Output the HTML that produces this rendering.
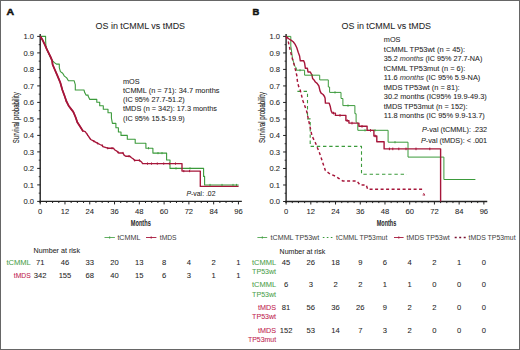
<!DOCTYPE html>
<html><head><meta charset="utf-8"><style>
html,body{margin:0;padding:0;background:#fff;}
#f{position:relative;width:520px;height:350px;overflow:hidden;box-sizing:border-box;border:1px solid #666;background:#fff;}
svg{position:absolute;left:-1px;top:-1px;}
text{font-family:"Liberation Sans",sans-serif;}
</style></head><body><div id="f">
<svg width="520" height="350" viewBox="0 0 520 350">
<text x="6.60" y="15.30" font-size="9.8" fill="#111" textLength="7.6" lengthAdjust="spacingAndGlyphs" font-weight="bold" stroke="#111" stroke-width="0.5">A</text>
<text x="140.30" y="28.90" font-size="9.6" fill="#262626" stroke="#262626" stroke-width="0.06" text-anchor="middle" textLength="89.5" lengthAdjust="spacingAndGlyphs" >OS in tCMML vs tMDS</text>
<text x="18.90" y="117.80" font-size="8.6" fill="#2a2a2a" text-anchor="middle" textLength="51" lengthAdjust="spacingAndGlyphs" transform="rotate(-90 18.9 117.8)" stroke="#2a2a2a" stroke-width="0.12">Survival probability</text>
<line x1="40.20" y1="34.00" x2="40.20" y2="202.90" stroke="#222" stroke-width="1.4"/>
<line x1="39.50" y1="201.40" x2="241.84" y2="201.40" stroke="#222" stroke-width="1.4"/>
<line x1="37.20" y1="201.40" x2="40.20" y2="201.40" stroke="#222" stroke-width="1"/>
<text x="34.10" y="204.10" font-size="7.6" fill="#262626" stroke="#262626" stroke-width="0.06" text-anchor="end" >0.0</text>
<line x1="38.70" y1="193.15" x2="40.20" y2="193.15" stroke="#222" stroke-width="0.9"/>
<line x1="37.20" y1="184.90" x2="40.20" y2="184.90" stroke="#222" stroke-width="1"/>
<text x="34.10" y="187.60" font-size="7.6" fill="#262626" stroke="#262626" stroke-width="0.06" text-anchor="end" >0.1</text>
<line x1="38.70" y1="176.65" x2="40.20" y2="176.65" stroke="#222" stroke-width="0.9"/>
<line x1="37.20" y1="168.40" x2="40.20" y2="168.40" stroke="#222" stroke-width="1"/>
<text x="34.10" y="171.10" font-size="7.6" fill="#262626" stroke="#262626" stroke-width="0.06" text-anchor="end" >0.2</text>
<line x1="38.70" y1="160.15" x2="40.20" y2="160.15" stroke="#222" stroke-width="0.9"/>
<line x1="37.20" y1="151.90" x2="40.20" y2="151.90" stroke="#222" stroke-width="1"/>
<text x="34.10" y="154.60" font-size="7.6" fill="#262626" stroke="#262626" stroke-width="0.06" text-anchor="end" >0.3</text>
<line x1="38.70" y1="143.65" x2="40.20" y2="143.65" stroke="#222" stroke-width="0.9"/>
<line x1="37.20" y1="135.40" x2="40.20" y2="135.40" stroke="#222" stroke-width="1"/>
<text x="34.10" y="138.10" font-size="7.6" fill="#262626" stroke="#262626" stroke-width="0.06" text-anchor="end" >0.4</text>
<line x1="38.70" y1="127.15" x2="40.20" y2="127.15" stroke="#222" stroke-width="0.9"/>
<line x1="37.20" y1="118.90" x2="40.20" y2="118.90" stroke="#222" stroke-width="1"/>
<text x="34.10" y="121.60" font-size="7.6" fill="#262626" stroke="#262626" stroke-width="0.06" text-anchor="end" >0.5</text>
<line x1="38.70" y1="110.65" x2="40.20" y2="110.65" stroke="#222" stroke-width="0.9"/>
<line x1="37.20" y1="102.40" x2="40.20" y2="102.40" stroke="#222" stroke-width="1"/>
<text x="34.10" y="105.10" font-size="7.6" fill="#262626" stroke="#262626" stroke-width="0.06" text-anchor="end" >0.6</text>
<line x1="38.70" y1="94.15" x2="40.20" y2="94.15" stroke="#222" stroke-width="0.9"/>
<line x1="37.20" y1="85.90" x2="40.20" y2="85.90" stroke="#222" stroke-width="1"/>
<text x="34.10" y="88.60" font-size="7.6" fill="#262626" stroke="#262626" stroke-width="0.06" text-anchor="end" >0.7</text>
<line x1="38.70" y1="77.65" x2="40.20" y2="77.65" stroke="#222" stroke-width="0.9"/>
<line x1="37.20" y1="69.40" x2="40.20" y2="69.40" stroke="#222" stroke-width="1"/>
<text x="34.10" y="72.10" font-size="7.6" fill="#262626" stroke="#262626" stroke-width="0.06" text-anchor="end" >0.8</text>
<line x1="38.70" y1="61.15" x2="40.20" y2="61.15" stroke="#222" stroke-width="0.9"/>
<line x1="37.20" y1="52.90" x2="40.20" y2="52.90" stroke="#222" stroke-width="1"/>
<text x="34.10" y="55.60" font-size="7.6" fill="#262626" stroke="#262626" stroke-width="0.06" text-anchor="end" >0.9</text>
<line x1="38.70" y1="44.65" x2="40.20" y2="44.65" stroke="#222" stroke-width="0.9"/>
<line x1="37.20" y1="36.40" x2="40.20" y2="36.40" stroke="#222" stroke-width="1"/>
<text x="34.10" y="39.10" font-size="7.6" fill="#262626" stroke="#262626" stroke-width="0.06" text-anchor="end" >1.0</text>
<line x1="40.20" y1="201.40" x2="40.20" y2="204.40" stroke="#222" stroke-width="1"/>
<text x="40.20" y="213.80" font-size="7.6" fill="#262626" stroke="#262626" stroke-width="0.06" text-anchor="middle" >0</text>
<line x1="46.40" y1="201.40" x2="46.40" y2="203.00" stroke="#222" stroke-width="1"/>
<line x1="52.59" y1="201.40" x2="52.59" y2="203.00" stroke="#222" stroke-width="1"/>
<line x1="58.79" y1="201.40" x2="58.79" y2="203.00" stroke="#222" stroke-width="1"/>
<line x1="64.98" y1="201.40" x2="64.98" y2="204.40" stroke="#222" stroke-width="1"/>
<text x="64.98" y="213.80" font-size="7.6" fill="#262626" stroke="#262626" stroke-width="0.06" text-anchor="middle" >12</text>
<line x1="71.17" y1="201.40" x2="71.17" y2="203.00" stroke="#222" stroke-width="1"/>
<line x1="77.37" y1="201.40" x2="77.37" y2="203.00" stroke="#222" stroke-width="1"/>
<line x1="83.56" y1="201.40" x2="83.56" y2="203.00" stroke="#222" stroke-width="1"/>
<line x1="89.76" y1="201.40" x2="89.76" y2="204.40" stroke="#222" stroke-width="1"/>
<text x="89.76" y="213.80" font-size="7.6" fill="#262626" stroke="#262626" stroke-width="0.06" text-anchor="middle" >24</text>
<line x1="95.95" y1="201.40" x2="95.95" y2="203.00" stroke="#222" stroke-width="1"/>
<line x1="102.15" y1="201.40" x2="102.15" y2="203.00" stroke="#222" stroke-width="1"/>
<line x1="108.34" y1="201.40" x2="108.34" y2="203.00" stroke="#222" stroke-width="1"/>
<line x1="114.54" y1="201.40" x2="114.54" y2="204.40" stroke="#222" stroke-width="1"/>
<text x="114.54" y="213.80" font-size="7.6" fill="#262626" stroke="#262626" stroke-width="0.06" text-anchor="middle" >36</text>
<line x1="120.73" y1="201.40" x2="120.73" y2="203.00" stroke="#222" stroke-width="1"/>
<line x1="126.93" y1="201.40" x2="126.93" y2="203.00" stroke="#222" stroke-width="1"/>
<line x1="133.12" y1="201.40" x2="133.12" y2="203.00" stroke="#222" stroke-width="1"/>
<line x1="139.32" y1="201.40" x2="139.32" y2="204.40" stroke="#222" stroke-width="1"/>
<text x="139.32" y="213.80" font-size="7.6" fill="#262626" stroke="#262626" stroke-width="0.06" text-anchor="middle" >48</text>
<line x1="145.51" y1="201.40" x2="145.51" y2="203.00" stroke="#222" stroke-width="1"/>
<line x1="151.71" y1="201.40" x2="151.71" y2="203.00" stroke="#222" stroke-width="1"/>
<line x1="157.91" y1="201.40" x2="157.91" y2="203.00" stroke="#222" stroke-width="1"/>
<line x1="164.10" y1="201.40" x2="164.10" y2="204.40" stroke="#222" stroke-width="1"/>
<text x="164.10" y="213.80" font-size="7.6" fill="#262626" stroke="#262626" stroke-width="0.06" text-anchor="middle" >60</text>
<line x1="170.30" y1="201.40" x2="170.30" y2="203.00" stroke="#222" stroke-width="1"/>
<line x1="176.49" y1="201.40" x2="176.49" y2="203.00" stroke="#222" stroke-width="1"/>
<line x1="182.69" y1="201.40" x2="182.69" y2="203.00" stroke="#222" stroke-width="1"/>
<line x1="188.88" y1="201.40" x2="188.88" y2="204.40" stroke="#222" stroke-width="1"/>
<text x="188.88" y="213.80" font-size="7.6" fill="#262626" stroke="#262626" stroke-width="0.06" text-anchor="middle" >72</text>
<line x1="195.07" y1="201.40" x2="195.07" y2="203.00" stroke="#222" stroke-width="1"/>
<line x1="201.27" y1="201.40" x2="201.27" y2="203.00" stroke="#222" stroke-width="1"/>
<line x1="207.46" y1="201.40" x2="207.46" y2="203.00" stroke="#222" stroke-width="1"/>
<line x1="213.66" y1="201.40" x2="213.66" y2="204.40" stroke="#222" stroke-width="1"/>
<text x="213.66" y="213.80" font-size="7.6" fill="#262626" stroke="#262626" stroke-width="0.06" text-anchor="middle" >84</text>
<line x1="219.86" y1="201.40" x2="219.86" y2="203.00" stroke="#222" stroke-width="1"/>
<line x1="226.05" y1="201.40" x2="226.05" y2="203.00" stroke="#222" stroke-width="1"/>
<line x1="232.25" y1="201.40" x2="232.25" y2="203.00" stroke="#222" stroke-width="1"/>
<line x1="238.44" y1="201.40" x2="238.44" y2="204.40" stroke="#222" stroke-width="1"/>
<text x="238.44" y="213.80" font-size="7.6" fill="#262626" stroke="#262626" stroke-width="0.06" text-anchor="middle" >96</text>
<path d="M40.2,36.4 H45.6 V40 L45.9,46 L47.4,50.5 L49.4,55 L51.4,59.5 L52.4,60.7 L54.1,62.4 L56.4,64.1 H59.3 V67.6 L60.4,71.6 L62.7,73.3 L64.4,76.1 L66.7,77.9 L68.4,80.7 H74.1 L75.3,84.7 V90 H84 L84.7,92.6 L86,95.1 H88.1 V96 L89.8,99.4 H96.8 V102.3 H99.7 V105.7 H103.3 V109.2 H108 V112.8 H111.4 V118 L112.4,123.4 H115.9 V127.7 H118.4 V132 H121 V135.4 H127.3 V139.2 H135.2 V143.3 H145.9 V148.2 H152.9 V153.1 H166.6 V160 H170 V168.4 H203.6 V176.4 H204.6 V185 H238.6" fill="none" stroke="#3b9a3b" stroke-width="1.1" stroke-linejoin="round"/>
<path d="M40.4,36.4 L42.7,40.3 L44.8,44.6 L46.6,48.8 L48.7,53.1 L50.8,57.4 L52.1,60.5 L52.6,64.5 L54.3,68.5 L57.3,75.4 L60.2,82.3 L62.4,90 L64.7,96.3 L66.3,101 L68.6,105.7 L71,108.9 L73.4,112 L75.7,117.5 L77.3,122.2 L80.4,127 L82.8,130.9 L85.2,131.7 L87.5,134.8 L90.7,139.5 L93.8,141.1 L97.7,143.3 L100,144.5 L102.4,145.6 L102.9,146.6 L107.7,148.2 H113.5 L114.6,149.8 L117.2,151.4 L118.8,153 H123 L124.1,155.1 L125.7,156.2 H129.9 L131.5,157.8 L133.1,158.8 L134.7,160.4 H139.4 L141.6,162 L142.6,163.6 H182 V171.1 H200.3 V186.4 H238.6" fill="none" stroke="#a6163a" stroke-width="1.35" stroke-linejoin="round"/>
<path d="M40.4,36.4 L42.7,40.3 L44.8,44.6 L46.6,48.8 L48.7,53.1 L50.8,57.4 L52.1,60.5 L52.6,64.5 L54.3,68.5 L57.3,75.4 L60.2,82.3 L62.4,90 L64.7,96.3 L66.3,101 L68.6,105.7 L71,108.9 L73.4,112 L75.7,117.5 L77.3,122.2 L80.4,127 L82.8,130.9" fill="none" stroke="#a6163a" stroke-width="1.8" stroke-linejoin="round"/>
<line x1="66.30" y1="99.90" x2="66.30" y2="102.10" stroke="#a6163a" stroke-width="1.0"/>
<line x1="73.40" y1="110.90" x2="73.40" y2="113.10" stroke="#a6163a" stroke-width="1.0"/>
<line x1="82.80" y1="129.80" x2="82.80" y2="132.00" stroke="#a6163a" stroke-width="1.0"/>
<line x1="87.50" y1="133.70" x2="87.50" y2="135.90" stroke="#a6163a" stroke-width="1.0"/>
<line x1="93.80" y1="140.00" x2="93.80" y2="142.20" stroke="#a6163a" stroke-width="1.0"/>
<line x1="97.70" y1="142.20" x2="97.70" y2="144.40" stroke="#a6163a" stroke-width="1.0"/>
<line x1="102.40" y1="144.50" x2="102.40" y2="146.70" stroke="#a6163a" stroke-width="1.0"/>
<line x1="107.70" y1="147.10" x2="107.70" y2="149.30" stroke="#a6163a" stroke-width="1.0"/>
<line x1="112.00" y1="147.10" x2="112.00" y2="149.30" stroke="#a6163a" stroke-width="1.0"/>
<line x1="118.00" y1="151.10" x2="118.00" y2="153.30" stroke="#a6163a" stroke-width="1.0"/>
<line x1="123.00" y1="151.90" x2="123.00" y2="154.10" stroke="#a6163a" stroke-width="1.0"/>
<line x1="129.00" y1="155.10" x2="129.00" y2="157.30" stroke="#a6163a" stroke-width="1.0"/>
<line x1="134.70" y1="159.30" x2="134.70" y2="161.50" stroke="#a6163a" stroke-width="1.0"/>
<line x1="139.40" y1="159.30" x2="139.40" y2="161.50" stroke="#a6163a" stroke-width="1.0"/>
<line x1="147.50" y1="162.50" x2="147.50" y2="164.70" stroke="#a6163a" stroke-width="1.0"/>
<line x1="151.50" y1="162.50" x2="151.50" y2="164.70" stroke="#a6163a" stroke-width="1.0"/>
<line x1="157.30" y1="162.50" x2="157.30" y2="164.70" stroke="#a6163a" stroke-width="1.0"/>
<line x1="163.70" y1="162.50" x2="163.70" y2="164.70" stroke="#a6163a" stroke-width="1.0"/>
<line x1="169.40" y1="162.50" x2="169.40" y2="164.70" stroke="#a6163a" stroke-width="1.0"/>
<line x1="175.50" y1="162.50" x2="175.50" y2="164.70" stroke="#a6163a" stroke-width="1.0"/>
<line x1="183.80" y1="170.00" x2="183.80" y2="172.20" stroke="#a6163a" stroke-width="1.0"/>
<line x1="189.60" y1="170.00" x2="189.60" y2="172.20" stroke="#a6163a" stroke-width="1.0"/>
<line x1="148.50" y1="147.10" x2="148.50" y2="149.30" stroke="#3b9a3b" stroke-width="0.9"/>
<line x1="158.00" y1="152.00" x2="158.00" y2="154.20" stroke="#3b9a3b" stroke-width="0.9"/>
<line x1="162.00" y1="152.00" x2="162.00" y2="154.20" stroke="#3b9a3b" stroke-width="0.9"/>
<line x1="176.00" y1="167.30" x2="176.00" y2="169.50" stroke="#3b9a3b" stroke-width="0.9"/>
<line x1="190.00" y1="167.30" x2="190.00" y2="169.50" stroke="#3b9a3b" stroke-width="0.9"/>
<line x1="210.00" y1="183.90" x2="210.00" y2="186.10" stroke="#3b9a3b" stroke-width="0.9"/>
<line x1="222.00" y1="183.90" x2="222.00" y2="186.10" stroke="#3b9a3b" stroke-width="0.9"/>
<line x1="233.00" y1="183.90" x2="233.00" y2="186.10" stroke="#3b9a3b" stroke-width="0.9"/>
<line x1="236.50" y1="183.90" x2="236.50" y2="186.10" stroke="#3b9a3b" stroke-width="0.9"/>
<text x="123.00" y="83.55" font-size="7.3" fill="#262626" stroke="#262626" stroke-width="0.06" >mOS</text>
<text x="123.00" y="92.80" font-size="7.3" fill="#262626" stroke="#262626" stroke-width="0.06" textLength="96.5" lengthAdjust="spacingAndGlyphs" >tCMML (n = 71): 34.7 months</text>
<text x="123.00" y="102.05" font-size="7.3" fill="#262626" stroke="#262626" stroke-width="0.06" >(IC 95% 27.7-51.2)</text>
<text x="123.00" y="111.30" font-size="7.3" fill="#262626" stroke="#262626" stroke-width="0.06" >tMDS (n = 342): 17.3 months</text>
<text x="123.00" y="120.55" font-size="7.3" fill="#262626" stroke="#262626" stroke-width="0.06" >(IC 95% 15.5-19.9)</text>
<text x="186.50" y="196.00" font-size="7.3" fill="#262626" stroke="#262626" stroke-width="0.06" textLength="29" lengthAdjust="spacingAndGlyphs" ><tspan font-style="italic">P</tspan>-val: .02</text>
<text x="140.80" y="225.80" font-size="9" fill="#2a2a2a" stroke="#2a2a2a" stroke-width="0.06" text-anchor="middle" textLength="20" lengthAdjust="spacingAndGlyphs" font-weight="bold" >Months</text>
<line x1="104.5" y1="237.5" x2="114.9" y2="237.5" stroke="#3b9a3b" stroke-width="0.8"/>
<line x1="109.7" y1="236.3" x2="109.7" y2="238.7" stroke="#3b9a3b" stroke-width="0.8"/>
<text x="117.40" y="239.80" font-size="7.3" fill="#3c3c3c" textLength="23" lengthAdjust="spacingAndGlyphs" stroke="none">tCMML</text>
<line x1="146" y1="237.5" x2="156.4" y2="237.5" stroke="#a6163a" stroke-width="0.9"/>
<line x1="151.2" y1="236.3" x2="151.2" y2="238.7" stroke="#a6163a" stroke-width="0.8"/>
<text x="159.80" y="239.80" font-size="7.3" fill="#3c3c3c" textLength="16.8" lengthAdjust="spacingAndGlyphs" stroke="none">tMDS</text>
<text x="33.60" y="253.30" font-size="7.3" fill="#262626" stroke="#262626" stroke-width="0.06" textLength="46.4" lengthAdjust="spacingAndGlyphs" >Number at risk</text>
<text x="30.80" y="265.10" font-size="7.3" fill="#4d9f4d" stroke="#4d9f4d" stroke-width="0.06" text-anchor="end" textLength="24.4" lengthAdjust="spacingAndGlyphs" >tCMML</text>
<text x="30.80" y="278.40" font-size="7.3" fill="#c0234f" stroke="#c0234f" stroke-width="0.06" text-anchor="end" textLength="17" lengthAdjust="spacingAndGlyphs" >tMDS</text>
<text x="40.20" y="265.10" font-size="7.6" fill="#262626" stroke="#262626" stroke-width="0.06" text-anchor="middle" >71</text>
<text x="40.20" y="278.40" font-size="7.6" fill="#262626" stroke="#262626" stroke-width="0.06" text-anchor="middle" >342</text>
<text x="64.98" y="265.10" font-size="7.6" fill="#262626" stroke="#262626" stroke-width="0.06" text-anchor="middle" >46</text>
<text x="64.98" y="278.40" font-size="7.6" fill="#262626" stroke="#262626" stroke-width="0.06" text-anchor="middle" >155</text>
<text x="89.76" y="265.10" font-size="7.6" fill="#262626" stroke="#262626" stroke-width="0.06" text-anchor="middle" >33</text>
<text x="89.76" y="278.40" font-size="7.6" fill="#262626" stroke="#262626" stroke-width="0.06" text-anchor="middle" >68</text>
<text x="114.54" y="265.10" font-size="7.6" fill="#262626" stroke="#262626" stroke-width="0.06" text-anchor="middle" >20</text>
<text x="114.54" y="278.40" font-size="7.6" fill="#262626" stroke="#262626" stroke-width="0.06" text-anchor="middle" >40</text>
<text x="139.32" y="265.10" font-size="7.6" fill="#262626" stroke="#262626" stroke-width="0.06" text-anchor="middle" >13</text>
<text x="139.32" y="278.40" font-size="7.6" fill="#262626" stroke="#262626" stroke-width="0.06" text-anchor="middle" >15</text>
<text x="164.10" y="265.10" font-size="7.6" fill="#262626" stroke="#262626" stroke-width="0.06" text-anchor="middle" >8</text>
<text x="164.10" y="278.40" font-size="7.6" fill="#262626" stroke="#262626" stroke-width="0.06" text-anchor="middle" >6</text>
<text x="188.88" y="265.10" font-size="7.6" fill="#262626" stroke="#262626" stroke-width="0.06" text-anchor="middle" >4</text>
<text x="188.88" y="278.40" font-size="7.6" fill="#262626" stroke="#262626" stroke-width="0.06" text-anchor="middle" >3</text>
<text x="213.66" y="265.10" font-size="7.6" fill="#262626" stroke="#262626" stroke-width="0.06" text-anchor="middle" >2</text>
<text x="213.66" y="278.40" font-size="7.6" fill="#262626" stroke="#262626" stroke-width="0.06" text-anchor="middle" >1</text>
<text x="238.44" y="265.10" font-size="7.6" fill="#262626" stroke="#262626" stroke-width="0.06" text-anchor="middle" >1</text>
<text x="238.44" y="278.40" font-size="7.6" fill="#262626" stroke="#262626" stroke-width="0.06" text-anchor="middle" >1</text>
<text x="252.40" y="15.30" font-size="9.8" fill="#111" textLength="6.8" lengthAdjust="spacingAndGlyphs" font-weight="bold" stroke="#111" stroke-width="0.5">B</text>
<text x="386.30" y="29.20" font-size="9.6" fill="#262626" stroke="#262626" stroke-width="0.06" text-anchor="middle" textLength="89.5" lengthAdjust="spacingAndGlyphs" >OS in tCMML vs tMDS</text>
<text x="264.70" y="117.50" font-size="8.6" fill="#2a2a2a" text-anchor="middle" textLength="51" lengthAdjust="spacingAndGlyphs" transform="rotate(-90 264.7 117.5)" stroke="#2a2a2a" stroke-width="0.12">Survival probability</text>
<line x1="286.10" y1="34.00" x2="286.10" y2="203.00" stroke="#222" stroke-width="1.4"/>
<line x1="285.40" y1="201.50" x2="487.26" y2="201.50" stroke="#222" stroke-width="1.4"/>
<line x1="283.10" y1="201.50" x2="286.10" y2="201.50" stroke="#222" stroke-width="1"/>
<text x="280.00" y="204.20" font-size="7.6" fill="#262626" stroke="#262626" stroke-width="0.06" text-anchor="end" >0.0</text>
<line x1="284.60" y1="193.25" x2="286.10" y2="193.25" stroke="#222" stroke-width="0.9"/>
<line x1="283.10" y1="184.99" x2="286.10" y2="184.99" stroke="#222" stroke-width="1"/>
<text x="280.00" y="187.69" font-size="7.6" fill="#262626" stroke="#262626" stroke-width="0.06" text-anchor="end" >0.1</text>
<line x1="284.60" y1="176.74" x2="286.10" y2="176.74" stroke="#222" stroke-width="0.9"/>
<line x1="283.10" y1="168.48" x2="286.10" y2="168.48" stroke="#222" stroke-width="1"/>
<text x="280.00" y="171.18" font-size="7.6" fill="#262626" stroke="#262626" stroke-width="0.06" text-anchor="end" >0.2</text>
<line x1="284.60" y1="160.23" x2="286.10" y2="160.23" stroke="#222" stroke-width="0.9"/>
<line x1="283.10" y1="151.97" x2="286.10" y2="151.97" stroke="#222" stroke-width="1"/>
<text x="280.00" y="154.67" font-size="7.6" fill="#262626" stroke="#262626" stroke-width="0.06" text-anchor="end" >0.3</text>
<line x1="284.60" y1="143.72" x2="286.10" y2="143.72" stroke="#222" stroke-width="0.9"/>
<line x1="283.10" y1="135.46" x2="286.10" y2="135.46" stroke="#222" stroke-width="1"/>
<text x="280.00" y="138.16" font-size="7.6" fill="#262626" stroke="#262626" stroke-width="0.06" text-anchor="end" >0.4</text>
<line x1="284.60" y1="127.21" x2="286.10" y2="127.21" stroke="#222" stroke-width="0.9"/>
<line x1="283.10" y1="118.95" x2="286.10" y2="118.95" stroke="#222" stroke-width="1"/>
<text x="280.00" y="121.65" font-size="7.6" fill="#262626" stroke="#262626" stroke-width="0.06" text-anchor="end" >0.5</text>
<line x1="284.60" y1="110.70" x2="286.10" y2="110.70" stroke="#222" stroke-width="0.9"/>
<line x1="283.10" y1="102.44" x2="286.10" y2="102.44" stroke="#222" stroke-width="1"/>
<text x="280.00" y="105.14" font-size="7.6" fill="#262626" stroke="#262626" stroke-width="0.06" text-anchor="end" >0.6</text>
<line x1="284.60" y1="94.19" x2="286.10" y2="94.19" stroke="#222" stroke-width="0.9"/>
<line x1="283.10" y1="85.93" x2="286.10" y2="85.93" stroke="#222" stroke-width="1"/>
<text x="280.00" y="88.63" font-size="7.6" fill="#262626" stroke="#262626" stroke-width="0.06" text-anchor="end" >0.7</text>
<line x1="284.60" y1="77.67" x2="286.10" y2="77.67" stroke="#222" stroke-width="0.9"/>
<line x1="283.10" y1="69.42" x2="286.10" y2="69.42" stroke="#222" stroke-width="1"/>
<text x="280.00" y="72.12" font-size="7.6" fill="#262626" stroke="#262626" stroke-width="0.06" text-anchor="end" >0.8</text>
<line x1="284.60" y1="61.17" x2="286.10" y2="61.17" stroke="#222" stroke-width="0.9"/>
<line x1="283.10" y1="52.91" x2="286.10" y2="52.91" stroke="#222" stroke-width="1"/>
<text x="280.00" y="55.61" font-size="7.6" fill="#262626" stroke="#262626" stroke-width="0.06" text-anchor="end" >0.9</text>
<line x1="284.60" y1="44.66" x2="286.10" y2="44.66" stroke="#222" stroke-width="0.9"/>
<line x1="283.10" y1="36.40" x2="286.10" y2="36.40" stroke="#222" stroke-width="1"/>
<text x="280.00" y="39.10" font-size="7.6" fill="#262626" stroke="#262626" stroke-width="0.06" text-anchor="end" >1.0</text>
<line x1="286.10" y1="201.50" x2="286.10" y2="204.50" stroke="#222" stroke-width="1"/>
<text x="286.10" y="213.80" font-size="7.6" fill="#262626" stroke="#262626" stroke-width="0.06" text-anchor="middle" >0</text>
<line x1="292.28" y1="201.50" x2="292.28" y2="203.10" stroke="#222" stroke-width="1"/>
<line x1="298.46" y1="201.50" x2="298.46" y2="203.10" stroke="#222" stroke-width="1"/>
<line x1="304.64" y1="201.50" x2="304.64" y2="203.10" stroke="#222" stroke-width="1"/>
<line x1="310.82" y1="201.50" x2="310.82" y2="204.50" stroke="#222" stroke-width="1"/>
<text x="310.82" y="213.80" font-size="7.6" fill="#262626" stroke="#262626" stroke-width="0.06" text-anchor="middle" >12</text>
<line x1="317.00" y1="201.50" x2="317.00" y2="203.10" stroke="#222" stroke-width="1"/>
<line x1="323.18" y1="201.50" x2="323.18" y2="203.10" stroke="#222" stroke-width="1"/>
<line x1="329.36" y1="201.50" x2="329.36" y2="203.10" stroke="#222" stroke-width="1"/>
<line x1="335.54" y1="201.50" x2="335.54" y2="204.50" stroke="#222" stroke-width="1"/>
<text x="335.54" y="213.80" font-size="7.6" fill="#262626" stroke="#262626" stroke-width="0.06" text-anchor="middle" >24</text>
<line x1="341.72" y1="201.50" x2="341.72" y2="203.10" stroke="#222" stroke-width="1"/>
<line x1="347.90" y1="201.50" x2="347.90" y2="203.10" stroke="#222" stroke-width="1"/>
<line x1="354.08" y1="201.50" x2="354.08" y2="203.10" stroke="#222" stroke-width="1"/>
<line x1="360.26" y1="201.50" x2="360.26" y2="204.50" stroke="#222" stroke-width="1"/>
<text x="360.26" y="213.80" font-size="7.6" fill="#262626" stroke="#262626" stroke-width="0.06" text-anchor="middle" >36</text>
<line x1="366.44" y1="201.50" x2="366.44" y2="203.10" stroke="#222" stroke-width="1"/>
<line x1="372.62" y1="201.50" x2="372.62" y2="203.10" stroke="#222" stroke-width="1"/>
<line x1="378.80" y1="201.50" x2="378.80" y2="203.10" stroke="#222" stroke-width="1"/>
<line x1="384.98" y1="201.50" x2="384.98" y2="204.50" stroke="#222" stroke-width="1"/>
<text x="384.98" y="213.80" font-size="7.6" fill="#262626" stroke="#262626" stroke-width="0.06" text-anchor="middle" >48</text>
<line x1="391.16" y1="201.50" x2="391.16" y2="203.10" stroke="#222" stroke-width="1"/>
<line x1="397.34" y1="201.50" x2="397.34" y2="203.10" stroke="#222" stroke-width="1"/>
<line x1="403.52" y1="201.50" x2="403.52" y2="203.10" stroke="#222" stroke-width="1"/>
<line x1="409.70" y1="201.50" x2="409.70" y2="204.50" stroke="#222" stroke-width="1"/>
<text x="409.70" y="213.80" font-size="7.6" fill="#262626" stroke="#262626" stroke-width="0.06" text-anchor="middle" >60</text>
<line x1="415.88" y1="201.50" x2="415.88" y2="203.10" stroke="#222" stroke-width="1"/>
<line x1="422.06" y1="201.50" x2="422.06" y2="203.10" stroke="#222" stroke-width="1"/>
<line x1="428.24" y1="201.50" x2="428.24" y2="203.10" stroke="#222" stroke-width="1"/>
<line x1="434.42" y1="201.50" x2="434.42" y2="204.50" stroke="#222" stroke-width="1"/>
<text x="434.42" y="213.80" font-size="7.6" fill="#262626" stroke="#262626" stroke-width="0.06" text-anchor="middle" >72</text>
<line x1="440.60" y1="201.50" x2="440.60" y2="203.10" stroke="#222" stroke-width="1"/>
<line x1="446.78" y1="201.50" x2="446.78" y2="203.10" stroke="#222" stroke-width="1"/>
<line x1="452.96" y1="201.50" x2="452.96" y2="203.10" stroke="#222" stroke-width="1"/>
<line x1="459.14" y1="201.50" x2="459.14" y2="204.50" stroke="#222" stroke-width="1"/>
<text x="459.14" y="213.80" font-size="7.6" fill="#262626" stroke="#262626" stroke-width="0.06" text-anchor="middle" >84</text>
<line x1="465.32" y1="201.50" x2="465.32" y2="203.10" stroke="#222" stroke-width="1"/>
<line x1="471.50" y1="201.50" x2="471.50" y2="203.10" stroke="#222" stroke-width="1"/>
<line x1="477.68" y1="201.50" x2="477.68" y2="203.10" stroke="#222" stroke-width="1"/>
<line x1="483.86" y1="201.50" x2="483.86" y2="204.50" stroke="#222" stroke-width="1"/>
<text x="483.86" y="213.80" font-size="7.6" fill="#262626" stroke="#262626" stroke-width="0.06" text-anchor="middle" >96</text>
<path d="M286.1,36.4 H290.8 V46 L291.4,50 L292.4,57.8 L293.6,62.5 L295,66.5 L296.3,68 V70.2 H304.6 V75.2 H319.7 V79.9 H328.3 V87 H329.6 V92.4 H341 V98.5 H342.9 V105.6 H354.9 V113.7 H356.1 V121.9 L357.8,123.1 V130.3 H388.1 V142.2 H408 V157.1 H443.9 V179.5 H475.4" fill="none" stroke="#3b9a3b" stroke-width="1.0" stroke-linejoin="round"/>
<path d="M297.4,91.4 H307.5 V118.9 H310.2 V146.4 H361.5 V174.2 H406.9" fill="none" stroke="#3b9a3b" stroke-width="1.1" stroke-linejoin="round" stroke-dasharray="3.4 2.8"/>
<path d="M286.2,36.4 L289,39 L291.3,40.4 L293.2,41.8 L295,44.1 L296.8,47.7 L298.2,52.3 L299.6,56 L300.3,60.8 H303.7 L304.6,63.1 L305.4,68.3 H307.4 L308,72 H310.3 L312,75.1 L312.6,78.5 L314.3,80.3 L315.4,82 L317.1,83.4 L318.9,86 L320,90.9 L321.1,93.1 L323.1,94.5 L324.5,96.5 L325.1,98.3 L325.4,103.1 H329.1 L330.3,106.6 L331.1,110.6 L332.3,113.1 H335.4 V115.4 H345.9 V120.6 H348.9 V123.1 H358.9 V126.3 H367.1 V130.4 H373.9 V136 H376.8 V141.8 H384.1 V148.9 H440.6 V201.4" fill="none" stroke="#a6163a" stroke-width="1.4" stroke-linejoin="round"/>
<line x1="333.50" y1="111.80" x2="333.50" y2="114.40" stroke="#a6163a" stroke-width="1.0"/>
<line x1="340.00" y1="114.10" x2="340.00" y2="116.70" stroke="#a6163a" stroke-width="1.0"/>
<line x1="347.20" y1="119.30" x2="347.20" y2="121.90" stroke="#a6163a" stroke-width="1.0"/>
<line x1="352.00" y1="121.80" x2="352.00" y2="124.40" stroke="#a6163a" stroke-width="1.0"/>
<line x1="362.00" y1="125.00" x2="362.00" y2="127.60" stroke="#a6163a" stroke-width="1.0"/>
<line x1="370.50" y1="129.10" x2="370.50" y2="131.70" stroke="#a6163a" stroke-width="1.0"/>
<line x1="375.20" y1="134.70" x2="375.20" y2="137.30" stroke="#a6163a" stroke-width="1.0"/>
<line x1="389.40" y1="147.60" x2="389.40" y2="150.20" stroke="#a6163a" stroke-width="1.0"/>
<line x1="392.80" y1="147.60" x2="392.80" y2="150.20" stroke="#a6163a" stroke-width="1.0"/>
<line x1="398.80" y1="147.60" x2="398.80" y2="150.20" stroke="#a6163a" stroke-width="1.0"/>
<line x1="406.00" y1="147.60" x2="406.00" y2="150.20" stroke="#a6163a" stroke-width="1.0"/>
<line x1="416.00" y1="147.60" x2="416.00" y2="150.20" stroke="#a6163a" stroke-width="1.0"/>
<line x1="429.80" y1="147.60" x2="429.80" y2="150.20" stroke="#a6163a" stroke-width="1.0"/>
<line x1="300.00" y1="69.10" x2="300.00" y2="71.30" stroke="#3b9a3b" stroke-width="0.9"/>
<line x1="312.00" y1="74.10" x2="312.00" y2="76.30" stroke="#3b9a3b" stroke-width="0.9"/>
<line x1="335.00" y1="91.30" x2="335.00" y2="93.50" stroke="#3b9a3b" stroke-width="0.9"/>
<line x1="348.00" y1="104.50" x2="348.00" y2="106.70" stroke="#3b9a3b" stroke-width="0.9"/>
<line x1="365.00" y1="129.20" x2="365.00" y2="131.40" stroke="#3b9a3b" stroke-width="0.9"/>
<line x1="375.00" y1="129.20" x2="375.00" y2="131.40" stroke="#3b9a3b" stroke-width="0.9"/>
<line x1="395.00" y1="141.10" x2="395.00" y2="143.30" stroke="#3b9a3b" stroke-width="0.9"/>
<path d="M286.1,36.4 L286.6,38.3 L288.3,41.7 L289.6,47.3 L290.4,51.1 L291.3,54.6 L292.9,60.6 L294.6,66.3 L295.7,70.9 L296.9,76 L297.4,81.1 L298.6,86.3 L300.3,90.3 L301.4,94.9 L303,101 L306.6,111 L309.3,123.5 L312,135.9 L315.5,143 L319.7,153.4 L323.1,163.7 L325.4,170.6 L330,174 L335.7,176.3 L339.1,178.6 L342.6,180.9 H356.9 L360,185 H366.2 L367.7,189.2 H423" fill="none" stroke="#a6163a" stroke-width="1.45" stroke-linejoin="round" stroke-dasharray="3 2.5"/>
<path d="M423.5,193 l1.2,2.2 M422.6,195 h2.4" stroke="#a6163a" stroke-width="0.9" fill="none"/>
<text x="383.80" y="42.00" font-size="7.3" fill="#262626" stroke="#262626" stroke-width="0.06" >mOS</text>
<text x="383.80" y="51.54" font-size="7.3" fill="#262626" stroke="#262626" stroke-width="0.06" textLength="81.3" lengthAdjust="spacingAndGlyphs" >tCMML TP53wt (n = 45):</text>
<text x="383.80" y="61.08" font-size="7.3" fill="#262626" stroke="#262626" stroke-width="0.06" textLength="98.5" lengthAdjust="spacingAndGlyphs" >35.2 <tspan font-style="italic" fill="#4a4a4a" stroke="#4a4a4a" stroke-width="0.1">months</tspan> (IC 95% 27.7-NA)</text>
<text x="383.80" y="70.62" font-size="7.3" fill="#262626" stroke="#262626" stroke-width="0.06" textLength="81.4" lengthAdjust="spacingAndGlyphs" >tCMML TP53mut (n = 6):</text>
<text x="383.80" y="80.16" font-size="7.3" fill="#262626" stroke="#262626" stroke-width="0.06" textLength="96.5" lengthAdjust="spacingAndGlyphs" >11.6 <tspan font-style="italic" fill="#4a4a4a" stroke="#4a4a4a" stroke-width="0.1">months</tspan> (IC 95% 5.9-NA)</text>
<text x="383.80" y="89.70" font-size="7.3" fill="#262626" stroke="#262626" stroke-width="0.06" textLength="75.9" lengthAdjust="spacingAndGlyphs" >tMDS TP53wt (n = 81):</text>
<text x="383.80" y="99.24" font-size="7.3" fill="#262626" stroke="#262626" stroke-width="0.06" textLength="103.0" lengthAdjust="spacingAndGlyphs" >30.2 months (IC95% 19.9-49.3)</text>
<text x="383.80" y="108.78" font-size="7.3" fill="#262626" stroke="#262626" stroke-width="0.06" textLength="83.8" lengthAdjust="spacingAndGlyphs" >tMDS TP53mut (n = 152):</text>
<text x="383.80" y="118.32" font-size="7.3" fill="#262626" stroke="#262626" stroke-width="0.06" textLength="101.0" lengthAdjust="spacingAndGlyphs" >11.8 months (IC 95% 9.9-13.7)</text>
<text x="487.20" y="132.30" font-size="7.3" fill="#262626" stroke="#262626" stroke-width="0.06" text-anchor="end" ><tspan font-style="italic">P</tspan>-val (tCMML): .232</text>
<text x="487.20" y="142.60" font-size="7.3" fill="#262626" stroke="#262626" stroke-width="0.06" text-anchor="end" ><tspan font-style="italic">P</tspan>-val (tMDS): &lt; .001</text>
<text x="386.50" y="225.80" font-size="9" fill="#2a2a2a" stroke="#2a2a2a" stroke-width="0.06" text-anchor="middle" textLength="19.5" lengthAdjust="spacingAndGlyphs" font-weight="bold" >Months</text>
<line x1="257.4" y1="237.5" x2="267.2" y2="237.5" stroke="#3b9a3b" stroke-width="0.8"/>
<line x1="262.3" y1="236.3" x2="262.3" y2="238.7" stroke="#3b9a3b" stroke-width="0.8"/>
<text x="270.60" y="239.60" font-size="7.3" fill="#3c3c3c" textLength="48.6" lengthAdjust="spacingAndGlyphs" stroke="none">tCMML TP53wt</text>
<line x1="322.8" y1="237.5" x2="332.4" y2="237.5" stroke="#3b9a3b" stroke-width="1.1" stroke-dasharray="1.6 2.4"/>
<text x="336.10" y="239.60" font-size="7.3" fill="#3c3c3c" textLength="51.2" lengthAdjust="spacingAndGlyphs" stroke="none">tCMML TP53mut</text>
<line x1="394" y1="237.5" x2="403.6" y2="237.5" stroke="#a6163a" stroke-width="0.9"/>
<line x1="398.8" y1="236.3" x2="398.8" y2="238.7" stroke="#a6163a" stroke-width="0.8"/>
<text x="406.60" y="239.60" font-size="7.3" fill="#3c3c3c" textLength="43.2" lengthAdjust="spacingAndGlyphs" stroke="none">tMDS TP53wt</text>
<line x1="454.7" y1="237.5" x2="465.8" y2="237.5" stroke="#7a1030" stroke-width="1.4" stroke-dasharray="2 2.5"/>
<text x="468.60" y="239.60" font-size="7.3" fill="#3c3c3c" textLength="47" lengthAdjust="spacingAndGlyphs" stroke="none">tMDS TP53mut</text>
<text x="279.60" y="253.60" font-size="7.3" fill="#262626" stroke="#262626" stroke-width="0.06" textLength="45.6" lengthAdjust="spacingAndGlyphs" >Number at risk</text>
<text x="276.10" y="264.70" font-size="7.3" fill="#4d9f4d" stroke="#4d9f4d" stroke-width="0.06" text-anchor="end" textLength="24.2" lengthAdjust="spacingAndGlyphs" >tCMML</text>
<text x="276.10" y="274.00" font-size="7.3" fill="#4d9f4d" stroke="#4d9f4d" stroke-width="0.06" text-anchor="end" textLength="24" lengthAdjust="spacingAndGlyphs" >TP53wt</text>
<text x="286.10" y="264.70" font-size="7.6" fill="#262626" stroke="#262626" stroke-width="0.06" text-anchor="middle" >45</text>
<text x="310.82" y="264.70" font-size="7.6" fill="#262626" stroke="#262626" stroke-width="0.06" text-anchor="middle" >26</text>
<text x="335.54" y="264.70" font-size="7.6" fill="#262626" stroke="#262626" stroke-width="0.06" text-anchor="middle" >18</text>
<text x="360.26" y="264.70" font-size="7.6" fill="#262626" stroke="#262626" stroke-width="0.06" text-anchor="middle" >9</text>
<text x="384.98" y="264.70" font-size="7.6" fill="#262626" stroke="#262626" stroke-width="0.06" text-anchor="middle" >6</text>
<text x="409.70" y="264.70" font-size="7.6" fill="#262626" stroke="#262626" stroke-width="0.06" text-anchor="middle" >4</text>
<text x="434.42" y="264.70" font-size="7.6" fill="#262626" stroke="#262626" stroke-width="0.06" text-anchor="middle" >2</text>
<text x="459.14" y="264.70" font-size="7.6" fill="#262626" stroke="#262626" stroke-width="0.06" text-anchor="middle" >1</text>
<text x="483.86" y="264.70" font-size="7.6" fill="#262626" stroke="#262626" stroke-width="0.06" text-anchor="middle" >0</text>
<text x="276.10" y="287.30" font-size="7.3" fill="#4d9f4d" stroke="#4d9f4d" stroke-width="0.06" text-anchor="end" textLength="24.2" lengthAdjust="spacingAndGlyphs" >tCMML</text>
<text x="276.10" y="296.60" font-size="7.3" fill="#4d9f4d" stroke="#4d9f4d" stroke-width="0.06" text-anchor="end" textLength="24" lengthAdjust="spacingAndGlyphs" >TP53wt</text>
<text x="286.10" y="287.30" font-size="7.6" fill="#262626" stroke="#262626" stroke-width="0.06" text-anchor="middle" >6</text>
<text x="310.82" y="287.30" font-size="7.6" fill="#262626" stroke="#262626" stroke-width="0.06" text-anchor="middle" >3</text>
<text x="335.54" y="287.30" font-size="7.6" fill="#262626" stroke="#262626" stroke-width="0.06" text-anchor="middle" >2</text>
<text x="360.26" y="287.30" font-size="7.6" fill="#262626" stroke="#262626" stroke-width="0.06" text-anchor="middle" >2</text>
<text x="384.98" y="287.30" font-size="7.6" fill="#262626" stroke="#262626" stroke-width="0.06" text-anchor="middle" >1</text>
<text x="409.70" y="287.30" font-size="7.6" fill="#262626" stroke="#262626" stroke-width="0.06" text-anchor="middle" >1</text>
<text x="434.42" y="287.30" font-size="7.6" fill="#262626" stroke="#262626" stroke-width="0.06" text-anchor="middle" >0</text>
<text x="459.14" y="287.30" font-size="7.6" fill="#262626" stroke="#262626" stroke-width="0.06" text-anchor="middle" >0</text>
<text x="483.86" y="287.30" font-size="7.6" fill="#262626" stroke="#262626" stroke-width="0.06" text-anchor="middle" >0</text>
<text x="276.10" y="309.90" font-size="7.3" fill="#c0234f" stroke="#c0234f" stroke-width="0.06" text-anchor="end" textLength="18" lengthAdjust="spacingAndGlyphs" >tMDS</text>
<text x="276.10" y="319.20" font-size="7.3" fill="#c0234f" stroke="#c0234f" stroke-width="0.06" text-anchor="end" textLength="24" lengthAdjust="spacingAndGlyphs" >TP53wt</text>
<text x="286.10" y="309.90" font-size="7.6" fill="#262626" stroke="#262626" stroke-width="0.06" text-anchor="middle" >81</text>
<text x="310.82" y="309.90" font-size="7.6" fill="#262626" stroke="#262626" stroke-width="0.06" text-anchor="middle" >56</text>
<text x="335.54" y="309.90" font-size="7.6" fill="#262626" stroke="#262626" stroke-width="0.06" text-anchor="middle" >36</text>
<text x="360.26" y="309.90" font-size="7.6" fill="#262626" stroke="#262626" stroke-width="0.06" text-anchor="middle" >26</text>
<text x="384.98" y="309.90" font-size="7.6" fill="#262626" stroke="#262626" stroke-width="0.06" text-anchor="middle" >9</text>
<text x="409.70" y="309.90" font-size="7.6" fill="#262626" stroke="#262626" stroke-width="0.06" text-anchor="middle" >2</text>
<text x="434.42" y="309.90" font-size="7.6" fill="#262626" stroke="#262626" stroke-width="0.06" text-anchor="middle" >2</text>
<text x="459.14" y="309.90" font-size="7.6" fill="#262626" stroke="#262626" stroke-width="0.06" text-anchor="middle" >0</text>
<text x="483.86" y="309.90" font-size="7.6" fill="#262626" stroke="#262626" stroke-width="0.06" text-anchor="middle" >0</text>
<text x="276.10" y="332.50" font-size="7.3" fill="#c0234f" stroke="#c0234f" stroke-width="0.06" text-anchor="end" textLength="18" lengthAdjust="spacingAndGlyphs" >tMDS</text>
<text x="276.10" y="341.80" font-size="7.3" fill="#c0234f" stroke="#c0234f" stroke-width="0.06" text-anchor="end" textLength="28.2" lengthAdjust="spacingAndGlyphs" >TP53mut</text>
<text x="286.10" y="332.50" font-size="7.6" fill="#262626" stroke="#262626" stroke-width="0.06" text-anchor="middle" >152</text>
<text x="310.82" y="332.50" font-size="7.6" fill="#262626" stroke="#262626" stroke-width="0.06" text-anchor="middle" >53</text>
<text x="335.54" y="332.50" font-size="7.6" fill="#262626" stroke="#262626" stroke-width="0.06" text-anchor="middle" >14</text>
<text x="360.26" y="332.50" font-size="7.6" fill="#262626" stroke="#262626" stroke-width="0.06" text-anchor="middle" >7</text>
<text x="384.98" y="332.50" font-size="7.6" fill="#262626" stroke="#262626" stroke-width="0.06" text-anchor="middle" >3</text>
<text x="409.70" y="332.50" font-size="7.6" fill="#262626" stroke="#262626" stroke-width="0.06" text-anchor="middle" >2</text>
<text x="434.42" y="332.50" font-size="7.6" fill="#262626" stroke="#262626" stroke-width="0.06" text-anchor="middle" >0</text>
<text x="459.14" y="332.50" font-size="7.6" fill="#262626" stroke="#262626" stroke-width="0.06" text-anchor="middle" >0</text>
<text x="483.86" y="332.50" font-size="7.6" fill="#262626" stroke="#262626" stroke-width="0.06" text-anchor="middle" >0</text>
</svg></div></body></html>
